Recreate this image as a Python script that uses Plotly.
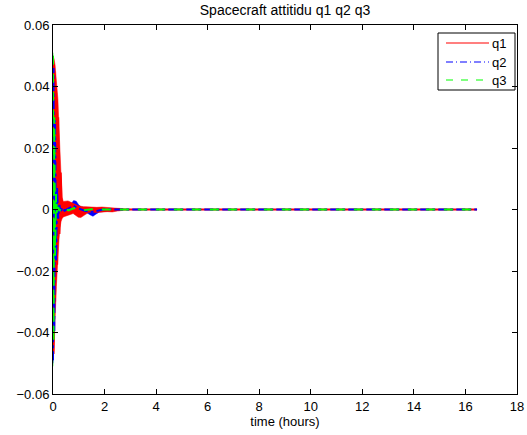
import plotly.graph_objects as go

# ---- data (time in hours) ----
# envelopes of the dense oscillation bands
q1_env_t = [0, 0.04, 0.08, 0.13, 0.19, 0.23, 0.27, 0.31, 0.35, 0.40, 0.48, 0.58, 0.68, 0.78, 0.88,
            0.98, 1.08, 1.18, 1.28, 1.38, 1.5, 1.7, 1.9, 2.1, 2.3, 2.5, 2.7]
q1_upper = [0.050, 0.049, 0.047, 0.042, 0.036, 0.027, 0.017, 0.009, 0.004, 0.0026, 0.0028, 0.0028,
            0.0024, 0.0019, 0.0016, 0.0012, 0.0010, 0.0009, 0.0009, 0.0008, 0.0007, 0.0007, 0.0008,
            0.0006, 0.0005, 0.0004, 0.0003]
q1_lower = [-0.048, -0.046, -0.036, -0.025, -0.015, -0.010, -0.006, -0.004, -0.003, -0.0024, -0.0022,
            -0.0020, -0.0016, -0.0013, -0.0018, -0.0025, -0.0026, -0.0022, -0.0015, -0.0010, -0.0009,
            -0.0010, -0.0009, -0.0007, -0.0008, -0.0005, -0.0003]

q2_env_t = [0, 0.04, 0.08, 0.12, 0.16, 0.2, 0.25, 0.3, 0.4, 0.55, 0.7, 0.8, 0.9, 1.0, 1.1, 1.3, 1.45,
            1.55, 1.65, 1.8, 2.0, 2.3, 2.6]
q2_upper = [0.050, 0.042, 0.030, 0.018, 0.008, 0.003, 0.0018, 0.0014, 0.0012, 0.0010, 0.0018, 0.0029,
            0.0027, 0.0015, 0.0008, 0.0006, 0.0005, 0.0004, 0.0004, 0.0004, 0.0004, 0.0003, 0.0002]
q2_lower = [-0.050, -0.043, -0.031, -0.019, -0.009, -0.003, -0.0018, -0.0014, -0.0012, -0.0010, -0.0008,
            -0.0006, -0.0006, -0.0006, -0.0008, -0.0010, -0.0018, -0.0022, -0.0016, -0.0008, -0.0005,
            -0.0004, -0.0002]

q3_env_t = [0, 0.03, 0.06, 0.09, 0.12, 0.16, 0.2, 0.3, 0.4, 0.6, 0.8, 0.9, 1.0, 1.1, 1.3, 1.6, 2.0]
q3_upper = [0.051, 0.040, 0.025, 0.012, 0.005, 0.002, 0.0008, 0.0006, 0.0005, 0.0004, 0.0005, 0.0008,
            0.0007, 0.0004, 0.0003, 0.0002, 0.0001]
q3_lower = [-0.051, -0.041, -0.026, -0.013, -0.005, -0.002, -0.0008, -0.0006, -0.0005, -0.0004, -0.0004,
            -0.0006, -0.0005, -0.0004, -0.0003, -0.0002, -0.0001]

# traced signal lines
line_t = [0, 0.02, 0.05, 0.08, 0.12, 0.16, 0.2, 0.25, 0.3, 0.35, 0.45, 0.6, 0.8, 1.0, 1.2, 1.5,
          2.0, 2.5, 3.0, 4.0, 5.0, 6.0, 8.0, 10.0, 12.0, 14.0, 16.45]
q1_line = [0.049, -0.047, 0.045, -0.030, 0.038, -0.018, 0.030, -0.008, 0.012, -0.002, 0.001, -0.0008,
           0.0006, -0.0005, 0.0003, -0.0002, 0.0001, 0, 0, 0, 0, 0, 0, 0, 0, 0, 0]
q2_line = [-0.049, 0.046, -0.040, 0.029, -0.017, 0.007, -0.003, 0.0015, -0.001, 0.0006, -0.0004, 0.0004,
           0.0012, 0.0003, -0.0003, -0.0008, 0.0001, 0, 0, 0, 0, 0, 0, 0, 0, 0, 0]
q3_line = [0.050, -0.043, 0.030, -0.015, 0.005, -0.002, 0.0008, -0.0005, 0.0004, -0.0003, 0.0003, -0.0003,
           0.0004, 0.0004, -0.0002, 0.0001, 0, 0, 0, 0, 0, 0, 0, 0, 0, 0, 0]

names = ["q1", "q2", "q3"]
colors = ["#ff0000", "#0000ff", "#00ff00"]
dashes = ["solid", "dashdot", "dash"]
legend_dashes = ["solid", "7px,3px,1px,3px", "7px,8px"]

x_ticks = [0, 2, 4, 6, 8, 10, 12, 14, 16, 18]
y_ticks = [-0.06, -0.04, -0.02, 0, 0.02, 0.04, 0.06]
y_ticktext = ["\u22120.06", "\u22120.04", "\u22120.02", "0", "0.02", "0.04", "0.06"]

envs = [(q1_env_t, q1_upper, q1_lower), (q2_env_t, q2_upper, q2_lower), (q3_env_t, q3_upper, q3_lower)]
lines = [q1_line, q2_line, q3_line]

fig = go.Figure()
# bands (q3 at the bottom, q1 on top), then the traced lines above them
for i in [2, 1, 0]:
    t, up, lo = envs[i]
    fig.add_trace(go.Scatter(
        x=list(t) + list(t)[::-1], y=list(up) + list(lo)[::-1],
        fill="toself", fillcolor=colors[i], mode="lines",
        line=dict(width=0.5, color=colors[i]), showlegend=False, hoverinfo="skip"))
for i in range(3):
    fig.add_trace(go.Scatter(
        x=line_t, y=lines[i], mode="lines", name=names[i],
        line=dict(width=2, color=colors[i], dash=dashes[i]), showlegend=False))

font = dict(family="Liberation Sans, Arial, sans-serif", size=13, color="black")
axis_common = dict(showline=True, linecolor="black", linewidth=1, mirror="ticks",
                   ticks="inside", ticklen=5, tickcolor="black", showgrid=False,
                   zeroline=False, automargin=False, tickfont=font)

# ---- legend drawn on an overlay axis spanning the plot box (0..1) ----
L, R, T, B = 53, 517, 25, 394
def px(x):
    return (x - L) / (R - L)
def py(y):
    return (B - y) / (B - T)

box_x = [px(438), px(515), px(515), px(438), px(438)]
box_y = [py(33), py(33), py(90), py(90), py(33)]
fig.add_trace(go.Scatter(x=box_x, y=box_y, xaxis="x2", yaxis="y2", mode="lines",
                         fill="toself", fillcolor="white", line=dict(color="black", width=1),
                         showlegend=False, hoverinfo="skip"))
legend_y = [43, 62, 80]
annotations = []
for i in range(3):
    fig.add_trace(go.Scatter(x=[px(446), px(489)], y=[py(legend_y[i])] * 2, xaxis="x2", yaxis="y2",
                             mode="lines", line=dict(color=colors[i], width=1.2, dash=legend_dashes[i]),
                             showlegend=False, hoverinfo="skip"))
    annotations.append(dict(text=names[i], xref="x2", yref="y2", x=px(490), y=py(legend_y[i]),
                            xanchor="left", yanchor="middle", showarrow=False, font=font))

fig.update_layout(
    template="none",
    width=527, height=435,
    margin=dict(l=L, r=527 - R, t=T, b=435 - B),
    paper_bgcolor="white", plot_bgcolor="white",
    font=font,
    showlegend=False,
    title=dict(text="Spacecraft attitidu q1 q2 q3", x=0.5408, xanchor="center",
               y=1 - 10 / 435, yanchor="middle", font=dict(family=font["family"], size=14, color="black")),
    xaxis=dict(range=[0, 18], tickvals=x_ticks, ticktext=[str(v) for v in x_ticks],
               title=dict(text="time (hours)", font=font, standoff=4), **axis_common),
    yaxis=dict(range=[-0.06, 0.06], tickvals=y_ticks, ticktext=y_ticktext, **axis_common),
    xaxis2=dict(overlaying="x", range=[0, 1], visible=False, fixedrange=True),
    yaxis2=dict(overlaying="y", range=[0, 1], visible=False, fixedrange=True),
    annotations=annotations,
)

fig.write_html("out.html")
